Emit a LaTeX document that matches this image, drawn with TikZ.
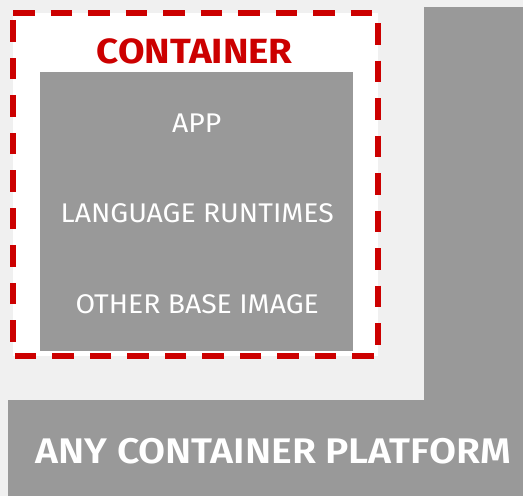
\documentclass[tikz,border=0pt]{standalone}
\usepackage{fontspec}
\setmainfont{Fira Sans}
\newfontfamily\layerfont[FakeStretch=1.05]{Fira Sans}
\newfontfamily\headfont[FakeStretch=1.1]{Fira Sans}
\newfontfamily\platfont[FakeStretch=1.1]{Fira Sans SemiBold}
\usetikzlibrary{positioning}
\definecolor{bggray}{HTML}{F0F0F0}
\definecolor{boxgray}{HTML}{999999}
\definecolor{rhred}{HTML}{CC0000}
\tikzset{
    slab/.style={fill=boxgray, draw=none, inner sep=0pt, anchor=north west},
    layer/.style={text=white, font=\layerfont\fontsize{27}{30}\selectfont, anchor=base},
    boxtitle/.style={text=rhred, font=\headfont\bfseries\fontsize{35}{40}\selectfont, anchor=base},
    platformtext/.style={text=white, font=\platfont\fontsize{35.6}{40}\selectfont, anchor=base},
    dashbox/.style={draw=rhred, fill=white, line width=5.3pt, dash pattern=on 21.5pt off 16pt},
}
\begin{document}
\begin{tikzpicture}[x=1pt, y=-1pt]
    \fill[bggray] (0,0) rectangle (523,496);
    \useasboundingbox (0,0) rectangle (523,496);
    % platform
    \node[slab, minimum width=99pt, minimum height=393pt] (side) at (424,7) {};
    \node[slab, minimum width=515.5pt, minimum height=96pt] (platform) at (7.5,400) {};
    \node[platformtext] (ptext) at (273.3,463.3) {ANY CONTAINER PLATFORM};
    %
    % container
    \coordinate (tl) at (13,13);
    \coordinate (br) at (378,356);
    \draw[dashbox] (tl) -- (tl -| br) -- (br) -- (br -| tl) -- cycle;
    \node[boxtitle] (title) at (194.7,63.3) {CONTAINER};
    %
    \node[slab, minimum width=313pt, minimum height=279pt] (stack) at (40,72) {};
    \node[layer] (app) at (196.7,132.3) {APP};
    \node[layer] (runtime) at (197.2,222.3) {LANGUAGE RUNTIMES};
    \node[layer] (base) at (197.2,313.3) {OTHER BASE IMAGE};
\end{tikzpicture}
\end{document}
